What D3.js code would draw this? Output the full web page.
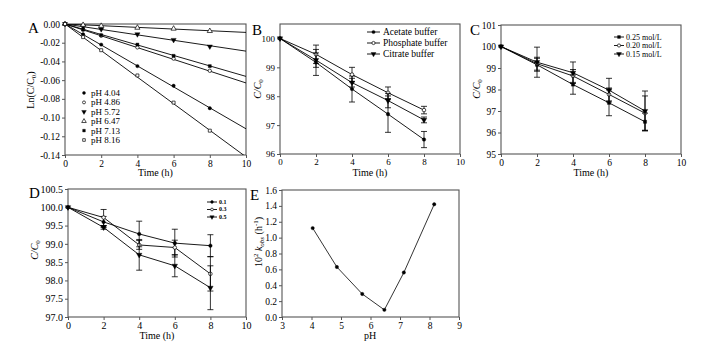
<!DOCTYPE html>
<html><head><meta charset="utf-8">
<script src="https://cdn.jsdelivr.net/npm/d3@7"></script>
<style>body{margin:0;background:#fff} svg{font-family:"Liberation Serif","Times New Roman",serif}</style>
</head><body><svg id="c" width="705" height="347"></svg>
<script>
// ---------- DATA ----------
const timesA = [0,1,2,4,6,8];
const phLabels = ["pH 4.04","pH 4.86","pH 5.72","pH 6.47","pH 7.13","pH 8.16"];
const ln404 = [0,-0.011,-0.022,-0.045,-0.066,-0.090];
const ln486 = [0,-0.006,-0.0125,-0.025,-0.037,-0.050];
const ln572 = [0,-0.003,-0.0055,-0.011,-0.017,-0.024];
const ln647 = [0,-0.001,-0.002,-0.004,-0.005,-0.0075];
const ln713 = [0,-0.006,-0.012,-0.022,-0.034,-0.045];
const ln816 = [0,-0.014,-0.028,-0.055,-0.084,-0.114];
const phValues = [4.04,4.86,5.72,6.47,7.13,8.16];
const kobs = [1.12,0.63,0.29,0.09,0.56,1.42];

const timesB = [0,2,4,6,8];
const bufferNames = ["Acetate buffer","Phosphate buffer","Citrate buffer"];
const acetate = [100,99.17,98.25,97.38,96.5];
const acetateErr = [0,0.45,0.45,0.63,0.28];
const phosphate = [100,99.45,98.75,98.12,97.52];
const phosphateErr = [0,0.32,0.25,0.2,0.13];
const citrate = [100,99.25,98.47,97.85,97.18];
const citrateErr = [0,0.25,0.15,0.25,0.1];

const concNames = ["0.25 mol/L","0.20 mol/L","0.15 mol/L"];
const conc025 = [100,99.15,98.23,97.38,96.5];
const conc025Err = [0,0.3,0.45,0.6,0.4];
const conc020 = [100,99.2,98.63,97.77,96.9];
const conc020Err = [0,0.3,0.3,0.3,0.8];
const conc015 = [100,99.27,98.78,97.97,97.0];
const conc015Err = [0,0.7,0.5,0.55,0.93];

const ionNames = ["0.1","0.3","0.5"];
const ion01 = [100,99.6,99.27,99.02,98.95];
const ion01Err = [0,0.15,0.35,0.38,0.3];
const ion03 = [100,99.72,98.97,98.9,98.18];
const ion03Err = [0,0.22,0.12,0.2,0.47];
const ion05 = [100,99.45,98.7,98.4,97.8];
const ion05Err = [0,0.05,0.42,0.3,0.6];

const ticksA_x = [0,2,4,6,8,10];
const ticksA_y = [0,-0.02,-0.04,-0.06,-0.08,-0.10,-0.12,-0.14];
const ticksB_y = [96,97,98,99,100];
const ticksC_y = [95,96,97,98,99,100,101];
const ticksD_y = [97.0,97.5,98.0,98.5,99.0,99.5,100.0,100.5];
const ticksE_x = [3,4,5,6,7,8,9];
const ticksE_y = [0,0.2,0.4,0.6,0.8,1.0,1.2,1.4,1.6];

// ---------- DRAWING ----------
const svg = d3.select("#c");
const FRAME = "#555";

function symbolPath(type, s){
  const map = {circle:d3.symbolCircle, square:d3.symbolSquare, tri:d3.symbolTriangle};
  return d3.symbol().type(map[type]).size(s)();
}
function marker(g, type, cx, cy, size){
  const base = type.replace("Open","").replace("Down","").replace("Up","");
  const open = type.includes("Open");
  const rot = type.includes("Down") ? 180 : 0;
  const s = size || 10;
  g.append("path").attr("d", symbolPath(base, base==="tri" ? s*1.3 : s))
    .attr("transform", `translate(${cx},${cy}) rotate(${rot})`)
    .attr("fill", open ? "#fff" : "#000").attr("stroke","#000").attr("stroke-width", open?0.7:0.4);
}
const fmtMinus = f => v => f(v).replace("\u2212","-");

function panel(o){
  const g = svg.append("g");
  const x = d3.scaleLinear().domain(o.xd).range([o.x0,o.x1]);
  const y = d3.scaleLinear().domain(o.yd).range([o.y1,o.y0]);
  const fs = o.fs || 9.5;
  const ax = g.append("g").attr("transform",`translate(0,${o.y1})`)
    .call(d3.axisBottom(x).tickValues(o.xt).tickSize(3).tickPadding(2).tickFormat(d3.format("d")));
  const ay = g.append("g").attr("transform",`translate(${o.x0},0)`)
    .call(d3.axisLeft(y).tickValues(o.yt).tickSize(3).tickPadding(2).tickFormat(fmtMinus(d3.format(o.yf))));
  [ax,ay].forEach(a=>{
    a.select(".domain").remove();
    a.selectAll("line").attr("stroke",FRAME);
    a.selectAll("text").attr("font-size",fs).attr("font-family","Liberation Serif").attr("fill","#000");
  });
  g.append("rect").attr("x",o.x0).attr("y",o.y0).attr("width",o.x1-o.x0).attr("height",o.y1-o.y0)
    .attr("fill","none").attr("stroke",FRAME).attr("stroke-width",1.1);
  const id = "clip"+o.id;
  svg.append("clipPath").attr("id",id).append("rect").attr("x",o.x0).attr("y",o.y0).attr("width",o.x1-o.x0).attr("height",o.y1-o.y0);
  const plot = g.append("g");
  return {g, x, y, plot, clip:id};
}
function xTitle(text, cx, by, fs){
  svg.append("text").attr("x",cx).attr("y",by).attr("text-anchor","middle").attr("font-size",fs||10).text(text);
}
function letter(t, x, y){ svg.append("text").attr("x",x).attr("y",y).attr("font-size",15).text(t); }
function ccLabel(cx, cy, italic){
  const t = svg.append("text").attr("transform",`translate(${cx},${cy}) rotate(-90)`).attr("text-anchor","middle").attr("font-size",10);
  t.append("tspan").attr("font-style",italic?"italic":null).text("C/C");
  t.append("tspan").attr("font-size",7).attr("dy",2).text("0");
}

function seriesWithErr(p, xs, ys, errs, type){
  const line = d3.line().x((d,i)=>p.x(xs[i])).y(d=>p.y(d));
  p.plot.append("path").attr("d",line(ys)).attr("fill","none").attr("stroke","#000").attr("stroke-width",0.9);
  ys.forEach((v,i)=>{
    const e = errs[i];
    if(e>0){
      const cx = p.x(xs[i]);
      p.plot.append("line").attr("x1",cx).attr("x2",cx).attr("y1",p.y(v-e)).attr("y2",p.y(v+e)).attr("stroke","#000").attr("stroke-width",0.8);
      [v-e,v+e].forEach(w=>p.plot.append("line").attr("x1",cx-3).attr("x2",cx+3).attr("y1",p.y(w)).attr("y2",p.y(w)).attr("stroke","#000").attr("stroke-width",0.8));
    }
  });
  ys.forEach((v,i)=>marker(p.plot,type,p.x(xs[i]),p.y(v),10));
}
function lineLegend(items, x1, x2, tx, rows, fs, weight, ms){
  items.forEach((it,i)=>{
    svg.append("line").attr("x1",x1).attr("x2",x2).attr("y1",rows[i]).attr("y2",rows[i]).attr("stroke","#000").attr("stroke-width",0.9);
    marker(svg,it.type,(x1+x2)/2,rows[i],ms||8);
    svg.append("text").attr("x",tx).attr("y",rows[i]).attr("dy","0.33em").attr("font-size",fs).attr("font-weight",weight||null).text(it.name);
  });
}

// ----- Panel A -----
const A = panel({id:"A",x0:65,x1:246,y0:24,y1:155,xd:[0,10],yd:[-0.14,0],xt:ticksA_x,yt:ticksA_y,yf:".2f"});
const lnSeries = [ln404,ln486,ln572,ln647,ln713,ln816];
const typesA = ["circle","circleOpen","triDown","triUpOpen","square","squareOpen"];
const fitG = A.plot.append("g").attr("clip-path",`url(#${A.clip})`);
kobs.forEach(k=>{
  fitG.append("line").attr("x1",A.x(0)).attr("y1",A.y(0)).attr("x2",A.x(10)).attr("y2",A.y(-k/100*10))
    .attr("stroke","#000").attr("stroke-width",0.9);
});
lnSeries.forEach((s,j)=>s.forEach((v,i)=>marker(A.plot,typesA[j],A.x(timesA[i]),A.y(v),9)));
phLabels.forEach((l,i)=>{
  const cy = 93 + i*9.4;
  marker(svg,typesA[i],84,cy,7);
  svg.append("text").attr("x",91).attr("y",cy).attr("dy","0.33em").attr("font-size",9).text(l);
});
letter("A",28,33);
xTitle("Time (h)",155.5,176);
{
  const t = svg.append("text").attr("transform","translate(34,90) rotate(-90)").attr("text-anchor","middle").attr("font-size",10);
  t.append("tspan").text("Ln(C/C");
  t.append("tspan").attr("font-size",7).attr("dy",2).text("0");
  t.append("tspan").attr("dy",-2).text(")");
}

// ----- Panel B -----
const B = panel({id:"B",x0:280,x1:460,y0:24,y1:154,xd:[0,10],yd:[96,100.5],xt:ticksA_x,yt:ticksB_y,yf:"d",fs:9});
seriesWithErr(B,timesB,acetate,acetateErr,"circle");
seriesWithErr(B,timesB,phosphate,phosphateErr,"circleOpen");
seriesWithErr(B,timesB,citrate,citrateErr,"triDown");
lineLegend([{name:bufferNames[0],type:"circle"},{name:bufferNames[1],type:"circleOpen"},{name:bufferNames[2],type:"triDown"}],367,380,383,[32,43,54],9.5);
letter("B",252,35);
xTitle("Time (h)",370,176);
ccLabel(261,89,true);

// ----- Panel C -----
const C = panel({id:"C",x0:501,x1:681,y0:25,y1:154,xd:[0,10],yd:[95,101],xt:ticksA_x,yt:ticksC_y,yf:"d"});
seriesWithErr(C,timesB,conc025,conc025Err,"square");
seriesWithErr(C,timesB,conc020,conc020Err,"circleOpen");
seriesWithErr(C,timesB,conc015,conc015Err,"triDown");
lineLegend([{name:concNames[0],type:"square"},{name:concNames[1],type:"circleOpen"},{name:concNames[2],type:"triDown"}],614,624,626,[37,45.5,54],8);
letter("C",470,35);
xTitle("Time (h)",591,176);
ccLabel(480,89,true);

// ----- Panel D -----
const D = panel({id:"D",x0:68,x1:246,y0:189,y1:317,xd:[0,10],yd:[97,100.5],xt:ticksA_x,yt:ticksD_y,yf:".1f",fs:10});
seriesWithErr(D,timesB,ion01,ion01Err,"circle");
seriesWithErr(D,timesB,ion03,ion03Err,"circleOpen");
seriesWithErr(D,timesB,ion05,ion05Err,"triDown");
lineLegend([{name:ionNames[0],type:"circle"},{name:ionNames[1],type:"circleOpen"},{name:ionNames[2],type:"triDown"}],207,217,219,[202,209.5,217],6,"bold",6);
letter("D",29,198);
xTitle("Time (h)",157,339);
ccLabel(38,250,true);

// ----- Panel E -----
const E = panel({id:"E",x0:282,x1:459,y0:190,y1:317,xd:[3,9],yd:[0,1.6],xt:ticksE_x,yt:ticksE_y,yf:".1f"});
E.plot.append("path").attr("d",d3.line().x((d,i)=>E.x(phValues[i])).y(d=>E.y(d))(kobs))
  .attr("fill","none").attr("stroke","#000").attr("stroke-width",0.8);
kobs.forEach((v,i)=>marker(E.plot,"circle",E.x(phValues[i]),E.y(v),9));
letter("E",250,200);
xTitle("pH",370,339);
{
  const t = svg.append("text").attr("transform","translate(262,242) rotate(-90)").attr("text-anchor","middle").attr("font-size",10);
  t.append("tspan").text("10");
  t.append("tspan").attr("font-size",7).attr("dy",-4).text("2");
  t.append("tspan").attr("dy",4).attr("font-style","italic").text(" k");
  t.append("tspan").attr("font-size",7).attr("dy",2).attr("font-style","italic").text("obs");
  t.append("tspan").attr("dy",-2).text(" (h");
  t.append("tspan").attr("font-size",7).attr("dy",-4).text("-1");
  t.append("tspan").attr("dy",4).text(")");
}
</script></body></html>
